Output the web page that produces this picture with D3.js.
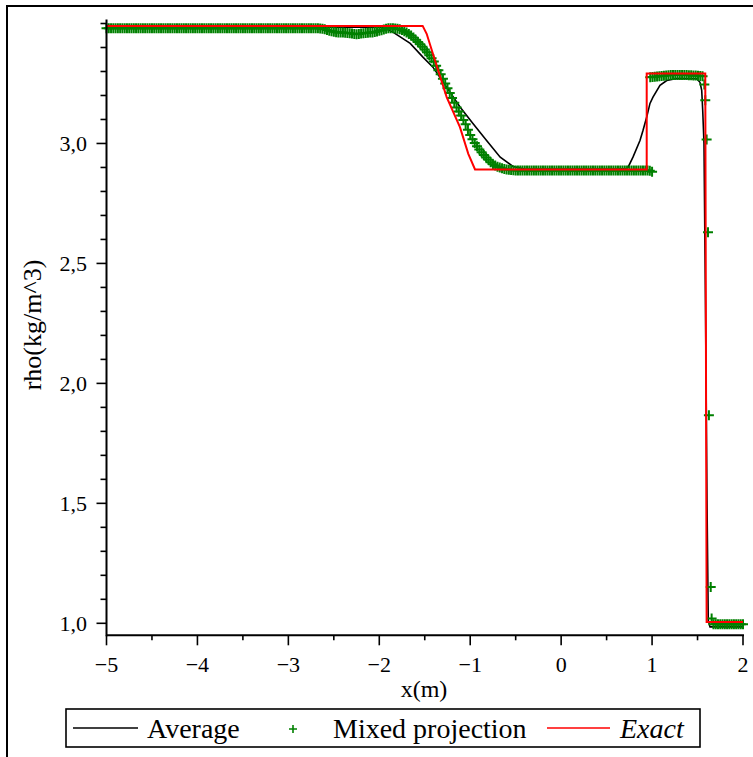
<!DOCTYPE html>
<html><head><meta charset="utf-8">
<script src="https://cdn.jsdelivr.net/npm/d3@7/dist/d3.min.js"></script>
<style>body{margin:0;background:#fff}svg{display:block}text{font-family:"Liberation Serif","Times New Roman",serif;fill:#000}</style>
</head><body>
<script>
// ---- data ----
const xTicks = [-5,-4,-3,-2,-1,0,1,2];
const xMinor = [-4.5,-3.5,-2.5,-1.5,-0.5,0.5,1.5];
const yTicks = [1.0,1.5,2.0,2.5,3.0];
const yMinor = [1.1,1.2,1.3,1.4,1.6,1.7,1.8,1.9,2.1,2.2,2.3,2.4,2.6,2.7,2.8,2.9,3.1,3.2,3.3,3.4,3.5];
const seriesNames = ["Average","Mixed projection","Exact"];

const avgX = [-5.00,-1.99,-1.92,-1.85,-1.66,-1.52,-1.41,-1.26,-1.11,-0.97,-0.82,-0.67,-0.53,-0.40,0.60,0.72,0.735,0.79,0.867,0.90,0.941,0.977,1.01,1.087,1.161,1.271,1.49,1.527,1.546,1.557,1.571,1.587,1.604,1.618,1.637,2.00];
const avgRho = [3.485,3.485,3.477,3.464,3.417,3.360,3.318,3.235,3.151,3.083,3.0125,2.943,2.904,2.893,2.893,2.895,2.90,2.943,3.0125,3.054,3.11,3.167,3.193,3.242,3.2625,3.271,3.27,3.255,3.221,3.1375,3.0,2.346,1.5125,1.0125,0.985,0.985];

const mixedX = [
-5.000,-4.975,-4.950,-4.925,-4.900,-4.875,-4.850,-4.825,-4.800,-4.775,-4.750,-4.725,-4.700,-4.675,-4.650,-4.625,-4.600,-4.575,-4.550,-4.525,
-4.500,-4.475,-4.450,-4.425,-4.400,-4.375,-4.350,-4.325,-4.300,-4.275,-4.250,-4.225,-4.200,-4.175,-4.150,-4.125,-4.100,-4.075,-4.050,-4.025,
-4.000,-3.975,-3.950,-3.925,-3.900,-3.875,-3.850,-3.825,-3.800,-3.775,-3.750,-3.725,-3.700,-3.675,-3.650,-3.625,-3.600,-3.575,-3.550,-3.525,
-3.500,-3.475,-3.450,-3.425,-3.400,-3.375,-3.350,-3.325,-3.300,-3.275,-3.250,-3.225,-3.200,-3.175,-3.150,-3.125,-3.100,-3.075,-3.050,-3.025,
-3.000,-2.975,-2.950,-2.925,-2.900,-2.875,-2.850,-2.825,-2.800,-2.775,-2.750,-2.725,-2.700,-2.675,-2.650,-2.625,-2.600,-2.575,-2.550,-2.525,
-2.500,-2.475,-2.450,-2.425,-2.400,-2.375,-2.350,-2.325,-2.300,-2.275,-2.250,-2.225,-2.200,-2.175,-2.150,-2.125,-2.100,-2.075,-2.050,-2.025,
-2.000,-1.975,-1.950,-1.925,-1.900,-1.875,-1.850,-1.825,-1.800,-1.775,-1.750,-1.725,-1.700,-1.675,-1.650,-1.625,-1.600,-1.575,-1.550,-1.525,
-1.500,-1.475,-1.450,-1.425,-1.400,-1.375,-1.350,-1.325,-1.300,-1.275,-1.250,-1.225,-1.200,-1.175,-1.150,-1.125,-1.100,-1.075,-1.050,-1.025,
-1.000,-0.975,-0.950,-0.925,-0.900,-0.875,-0.850,-0.825,-0.800,-0.775,-0.750,-0.725,-0.700,-0.675,-0.650,-0.625,-0.600,-0.575,-0.550,-0.525,
-0.500,-0.475,-0.450,-0.425,-0.400,-0.375,-0.350,-0.325,-0.300,-0.275,-0.250,-0.225,-0.200,-0.175,-0.150,-0.125,-0.100,-0.075,-0.050,-0.025,
0.000,0.025,0.050,0.075,0.100,0.125,0.150,0.175,0.200,0.225,0.250,0.275,0.300,0.325,0.350,0.375,0.400,0.425,0.450,0.475,
0.500,0.525,0.550,0.575,0.600,0.625,0.650,0.675,0.700,0.725,0.750,0.775,0.800,0.825,0.850,0.875,0.900,0.925,0.950,0.975,
1.000,
0.980,1.005,1.030,1.055,1.080,1.105,1.130,1.155,1.180,1.205,1.230,1.255,1.280,1.305,1.330,1.355,1.380,1.405,1.430,1.455,1.480,1.505,1.530,1.555,
1.575,1.585,1.600,1.615,1.625,1.645,1.655,
1.675,1.700,1.725,1.750,1.775,1.800,1.825,1.850,1.875,1.900,1.925,1.950,1.975,2.000];
const mixedRho = [
3.480,3.480,3.480,3.480,3.480,3.480,3.480,3.480,3.480,3.480,3.480,3.480,3.480,3.480,3.480,3.480,3.480,3.480,3.480,3.480,
3.480,3.480,3.480,3.480,3.480,3.480,3.480,3.480,3.480,3.480,3.480,3.480,3.480,3.480,3.480,3.480,3.480,3.480,3.480,3.480,
3.480,3.480,3.480,3.480,3.480,3.480,3.480,3.480,3.480,3.480,3.480,3.480,3.480,3.480,3.480,3.480,3.480,3.480,3.480,3.480,
3.480,3.480,3.480,3.480,3.480,3.480,3.480,3.480,3.480,3.480,3.480,3.480,3.480,3.480,3.480,3.480,3.480,3.480,3.480,3.480,
3.480,3.480,3.480,3.480,3.480,3.480,3.480,3.480,3.480,3.480,3.480,3.480,3.480,3.480,3.479,3.478,3.476,3.473,3.470,3.468,
3.466,3.464,3.462,3.462,3.462,3.461,3.460,3.459,3.458,3.456,3.455,3.456,3.458,3.459,3.460,3.461,3.462,3.463,3.465,3.467,
3.470,3.472,3.475,3.478,3.480,3.480,3.480,3.479,3.478,3.476,3.473,3.468,3.462,3.456,3.450,3.442,3.432,3.423,3.414,3.403,
3.392,3.380,3.368,3.355,3.342,3.324,3.305,3.288,3.270,3.250,3.230,3.210,3.190,3.170,3.150,3.133,3.117,3.098,3.080,3.057,
3.035,3.018,3.002,2.988,2.975,2.963,2.952,2.942,2.932,2.922,2.913,2.908,2.903,2.900,2.897,2.894,2.892,2.890,2.889,2.888,
2.887,2.887,2.887,2.887,2.887,2.887,2.887,2.887,2.887,2.887,2.887,2.887,2.887,2.887,2.887,2.887,2.887,2.887,2.887,2.887,
2.887,2.887,2.887,2.887,2.887,2.887,2.887,2.887,2.887,2.887,2.887,2.887,2.887,2.887,2.887,2.887,2.887,2.887,2.887,2.887,
2.887,2.887,2.887,2.887,2.887,2.887,2.887,2.887,2.887,2.887,2.887,2.887,2.887,2.887,2.887,2.887,2.887,2.887,2.887,2.886,
2.882,
3.276,3.277,3.278,3.279,3.280,3.281,3.282,3.283,3.284,3.285,3.285,3.285,3.285,3.285,3.285,3.285,3.285,3.284,3.284,3.283,3.283,3.282,3.281,3.280,
3.246,3.180,3.017,2.630,1.867,1.151,1.020,
0.996,0.996,0.996,0.996,0.996,0.996,0.996,0.996,0.996,0.996,0.996,0.996,0.996,0.996];

const exactX = [-5.00,-1.523,-1.479,-1.387,-1.259,-1.113,-1.021,-0.947,0.941,0.941,1.585,1.600,2.00];
const exactRho = [3.49,3.49,3.457,3.346,3.193,3.068,2.957,2.892,2.892,3.292,3.292,1.005,1.005];

// ---- chart ----
const W = 753, H = 757;
const svg = d3.select("body").append("svg").attr("width", W).attr("height", H);
const x = d3.scaleLinear().domain([-5, 2]).range([106.5, 743]);
const y = d3.scaleLinear().domain([0.95, 3.5167]).range([635.3, 19.5]);
const loc = d3.formatLocale({decimal: ",", thousands: ".", grouping: [3], currency: ["", ""], minus: "\u2212"});
const fy = loc.format(".1f"), fx = loc.format("d");

// frame (top & left)
svg.append("path").attr("d", "M7,757V6H753").attr("fill", "none").attr("stroke", "#000").attr("stroke-width", 2);

// data
const line = d3.line().x(d => x(d[0])).y(d => y(d[1]));
const avg = avgX.map((v, i) => [v, avgRho[i]]);
const mixed = mixedX.map((v, i) => [v, mixedRho[i]]);
const exact = exactX.map((v, i) => [v, exactRho[i]]);

svg.append("path").datum(avg).attr("d", line).attr("fill", "none").attr("stroke", "#000").attr("stroke-width", 1.6);
svg.append("g").selectAll("path").data(mixed).join("path")
  .attr("transform", d => `translate(${x(d[0])},${y(d[1])})`)
  .attr("d", "M-5,0H5M0,-5V5").attr("stroke", "#008000").attr("stroke-width", 2).attr("fill", "none");
svg.append("path").datum(exact).attr("d", line).attr("fill", "none").attr("stroke", "#ff0000").attr("stroke-width", 2);

// axes
const gx = svg.append("g");
gx.append("line").attr("x1", x(-5)).attr("x2", x(2) + 1).attr("y1", y(0.95)).attr("y2", y(0.95)).attr("stroke", "#000").attr("stroke-width", 2);
gx.selectAll(".maj").data(xTicks).join("line").attr("class","maj").attr("x1", d => x(d)).attr("x2", d => x(d))
  .attr("y1", y(0.95)).attr("y2", y(0.95) + 10).attr("stroke", "#000").attr("stroke-width", 1.6);
gx.selectAll(".min").data(xMinor).join("line").attr("class","min").attr("x1", d => x(d)).attr("x2", d => x(d))
  .attr("y1", y(0.95)).attr("y2", y(0.95) + 5).attr("stroke", "#000").attr("stroke-width", 1.6);
gx.selectAll("text").data(xTicks).join("text").attr("x", d => x(d)).attr("y", 672)
  .attr("text-anchor", "middle").attr("font-size", 22).text(d => fx(d));

const gy = svg.append("g");
gy.append("line").attr("x1", x(-5)).attr("x2", x(-5)).attr("y1", y(0.95) + 1).attr("y2", y(3.5167)).attr("stroke", "#000").attr("stroke-width", 2);
gy.selectAll(".maj").data(yTicks).join("line").attr("class","maj").attr("x1", x(-5) - 10).attr("x2", x(-5))
  .attr("y1", d => y(d)).attr("y2", d => y(d)).attr("stroke", "#000").attr("stroke-width", 1.6);
gy.selectAll(".min").data(yMinor).join("line").attr("class","min").attr("x1", x(-5) - 6).attr("x2", x(-5))
  .attr("y1", d => y(d)).attr("y2", d => y(d)).attr("stroke", "#000").attr("stroke-width", 1.6);
gy.selectAll("text").data(yTicks).join("text").attr("x", 87).attr("y", d => y(d) + 8)
  .attr("text-anchor", "end").attr("font-size", 22).text(d => fy(d));

// axis titles
svg.append("text").attr("x", 424).attr("y", 697).attr("text-anchor", "middle").attr("font-size", 24).text("x(m)");
svg.append("text").attr("transform", "translate(41,325) rotate(-90)").attr("text-anchor", "middle").attr("font-size", 26).text("rho(kg/m^3)");

// legend
const lg = svg.append("g");
lg.append("rect").attr("x", 66).attr("y", 709).attr("width", 634).attr("height", 38).attr("fill", "#fff").attr("stroke", "#000").attr("stroke-width", 1.6);
lg.append("line").attr("x1", 73).attr("x2", 138).attr("y1", 728).attr("y2", 728).attr("stroke", "#000").attr("stroke-width", 1.6);
lg.append("text").attr("x", 147).attr("y", 738).attr("font-size", 28).text(seriesNames[0]);
lg.append("path").attr("transform", "translate(293,729)").attr("d", "M-4,0H4M0,-4V4").attr("stroke", "#008000").attr("stroke-width", 1.6);
lg.append("text").attr("x", 333).attr("y", 738).attr("font-size", 28).text(seriesNames[1]);
lg.append("line").attr("x1", 547).attr("x2", 610).attr("y1", 728).attr("y2", 728).attr("stroke", "#ff0000").attr("stroke-width", 1.6);
lg.append("text").attr("x", 620).attr("y", 738).attr("font-size", 28).attr("font-style", "italic").text(seriesNames[2]);
</script>
</body></html>
